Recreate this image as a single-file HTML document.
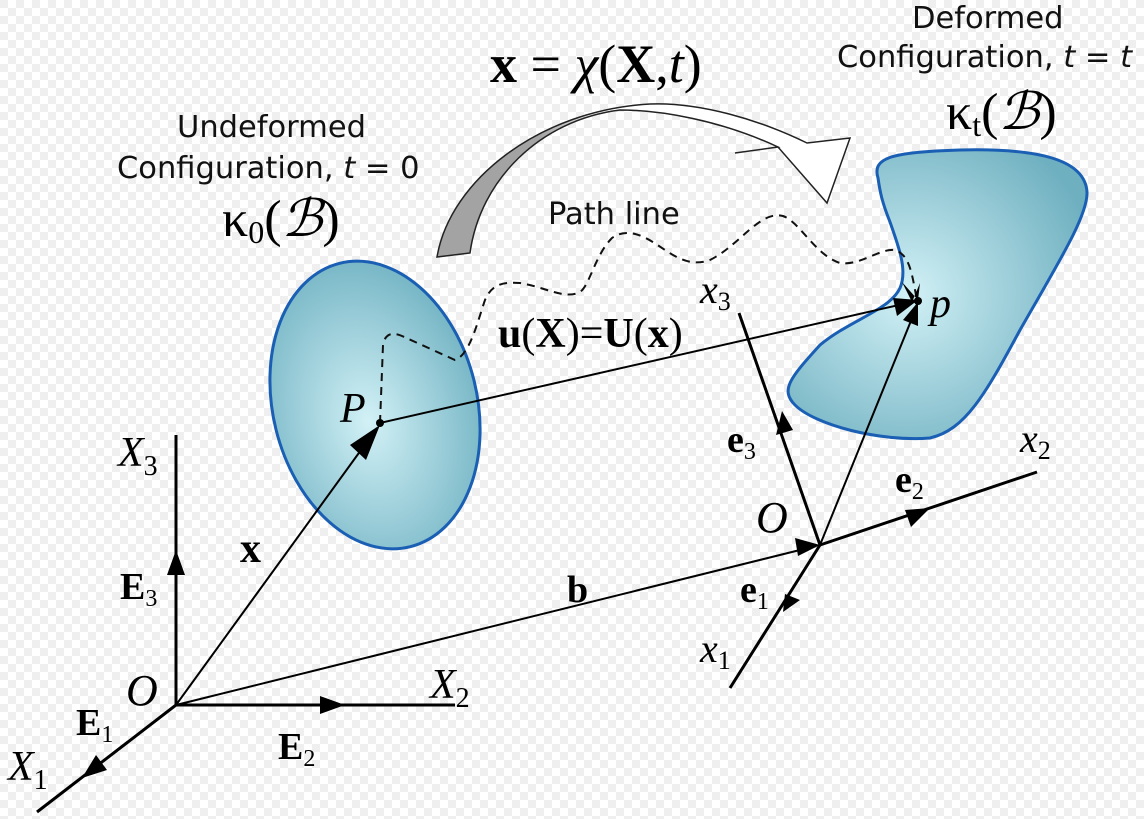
<!DOCTYPE html>
<html><head><meta charset="utf-8"><style>
html,body{margin:0;padding:0;width:1144px;height:819px;overflow:hidden}
svg{display:block}
.s{font-family:"DejaVu Sans","Liberation Sans",sans-serif;font-size:30.5px;fill:#111}
.m{font-family:"Liberation Serif","DejaVu Serif",serif;fill:#000}
</style></head><body>
<svg width="1144" height="819" viewBox="0 0 1144 819" xmlns="http://www.w3.org/2000/svg">
<defs>
<pattern id="ck" width="16" height="16" patternUnits="userSpaceOnUse">
<rect width="16" height="16" fill="#ffffff"/>
<rect width="8" height="8" fill="#efefef"/>
<rect x="8" y="8" width="8" height="8" fill="#efefef"/>
</pattern>
<radialGradient id="g1" cx="0.45" cy="0.55" r="0.6">
<stop offset="0" stop-color="#d2f1f6"/><stop offset="1" stop-color="#72b3c3"/>
</radialGradient>
<radialGradient id="g2" cx="0.4" cy="0.5" r="0.65">
<stop offset="0" stop-color="#d2f1f6"/><stop offset="1" stop-color="#6fb0c0"/>
</radialGradient>
<linearGradient id="ag" x1="0" y1="0" x2="1" y2="0">
<stop offset="0.25" stop-color="#a3a3a3"/><stop offset="0.42" stop-color="#ffffff"/>
</linearGradient>
</defs>
<rect width="1144" height="819" fill="url(#ck)"/>

<ellipse cx="375" cy="405" rx="102" ry="146" transform="rotate(-14 375 405)" fill="url(#g1)" stroke="#1a5fb4" stroke-width="3"/>
<path d="M878,178 C872,158 890,152 960,150 C1040,148 1085,160 1087,192 C1088,215 1060,260 1020,330 C985,395 965,430 930,438 C880,442 815,425 795,405 C780,390 790,378 820,345 C850,320 890,310 900,288 C908,270 898,245 890,222 C882,202 880,192 878,178 Z" fill="url(#g2)" stroke="#1a5fb4" stroke-width="3"/>

<path d="M437,257 C450,180 540,110 650,104 C700,102 760,120 807,143 L850,138 L827,203 L778,147 L735,153 L778,147 C720,120 660,110 620,110 C540,120 480,180 470,253 Z" fill="url(#ag)" stroke="#222" stroke-width="1.5"/>

<path d="M380,423 L383,345 C385,333 393,332 402,336 L455,360 C470,355 478,320 485,300 C492,283 505,282 520,283 C545,287 565,300 580,292 C590,285 595,255 612,238 C630,225 650,240 665,250 C680,260 693,266 710,260 C740,245 760,210 783,216 C800,222 815,255 840,263 C860,266 880,248 895,250 C910,255 912,275 916,295" fill="none" stroke="#111" stroke-width="2" stroke-dasharray="8,6"/>

<g stroke="#000" stroke-width="3" fill="none">
<line x1="176" y1="705" x2="176" y2="435"/>
<line x1="176" y1="705" x2="455" y2="705"/>
<line x1="176" y1="705" x2="37" y2="812"/>
</g>
<path d="M176,550 L167,575 L185,575z" fill="#000"/>
<path d="M345,705 L320,696 L320,714z" fill="#000"/>
<path d="M82,778 L107,770 L96,755z" fill="#000"/>
<g stroke="#000" stroke-width="2" fill="none">
<line x1="176" y1="705" x2="377" y2="428"/>
<line x1="176" y1="705" x2="816" y2="546"/>
<line x1="380" y1="423" x2="912" y2="302"/>
<line x1="820" y1="545" x2="917" y2="306"/>
</g>
<path d="M380,425 L350,445 L366,460z" fill="#000"/>
<path d="M820,545 L795,538 L798,556z" fill="#000"/>
<path d="M918,300 L893,298 L897,316z" fill="#000"/>
<path d="M918,302 L903,320 L918,326z" fill="#000"/>
<path d="M918,300 L902,282 L912,302 L920,283z" fill="#000"/>
<circle cx="380" cy="423" r="4" fill="#000"/>
<circle cx="918" cy="301" r="4" fill="#000"/>

<g stroke="#000" stroke-width="3" fill="none">
<line x1="820" y1="545" x2="1037" y2="472"/>
<line x1="820" y1="545" x2="730" y2="688"/>
<line x1="820" y1="545" x2="739" y2="313"/>
</g>
<path d="M930,508 L905,510 L911,527z" fill="#000"/>
<path d="M782,411 L776,435 L793,430z" fill="#000"/>
<path d="M783,612 L800,600 L785,594z" fill="#000"/>

<text class="s" x="177" y="137">Undeformed</text>
<text class="s" x="117" y="178">Configuration, <tspan font-style="italic">t</tspan> = 0</text>
<text class="s" x="912" y="28">Deformed</text>
<text class="s" x="837" y="67">Configuration, <tspan font-style="italic">t</tspan> = <tspan font-style="italic">t</tspan></text>
<text class="s" x="548" y="224" font-size="27">Path line</text>
<text class="m" x="222" y="236" font-size="52">κ<tspan font-size="32" dy="7">0</tspan><tspan dy="-7">(</tspan><tspan font-style="italic">ℬ</tspan>)</text>
<text class="m" x="946" y="129" font-size="52">κ<tspan font-size="32" dy="7">t</tspan><tspan dy="-7">(</tspan><tspan font-style="italic">ℬ</tspan>)</text>
<text class="m" x="490" y="82" font-size="54"><tspan font-weight="bold">x</tspan> = <tspan font-style="italic">χ</tspan>(<tspan font-weight="bold">X</tspan>,<tspan font-style="italic">t</tspan>)</text>
<text class="m" x="498" y="347" font-size="42" font-weight="bold">u<tspan font-weight="normal">(</tspan>X<tspan font-weight="normal">)=</tspan>U<tspan font-weight="normal">(</tspan>x<tspan font-weight="normal">)</tspan></text>
<text class="m" x="340" y="422" font-size="42" font-style="italic">P</text>
<text class="m" x="930" y="317" font-size="42" font-style="italic">p</text>
<text class="m" x="118" y="466" font-size="42" font-style="italic">X<tspan font-size="28" dy="9" font-style="normal">3</tspan></text>
<text class="m" x="430" y="698" font-size="42" font-style="italic">X<tspan font-size="28" dy="9" font-style="normal">2</tspan></text>
<text class="m" x="8" y="780" font-size="42" font-style="italic">X<tspan font-size="28" dy="9" font-style="normal">1</tspan></text>
<text class="m" x="126" y="705" font-size="44" font-style="italic">O</text>
<text class="m" x="756" y="532" font-size="44" font-style="italic">O</text>
<text class="m" x="120" y="599" font-size="38" font-weight="bold">E<tspan font-size="24" dy="7" font-weight="normal">3</tspan></text>
<text class="m" x="278" y="759" font-size="38" font-weight="bold">E<tspan font-size="24" dy="7" font-weight="normal">2</tspan></text>
<text class="m" x="76" y="735" font-size="38" font-weight="bold">E<tspan font-size="24" dy="7" font-weight="normal">1</tspan></text>
<text class="m" x="240" y="562" font-size="42" font-weight="bold">x</text>
<text class="m" x="567" y="602" font-size="38" font-weight="bold">b</text>
<text class="m" x="727" y="452" font-size="38" font-weight="bold">e<tspan font-size="24" dy="7" font-weight="normal">3</tspan></text>
<text class="m" x="895" y="492" font-size="38" font-weight="bold">e<tspan font-size="24" dy="7" font-weight="normal">2</tspan></text>
<text class="m" x="740" y="602" font-size="38" font-weight="bold">e<tspan font-size="24" dy="7" font-weight="normal">1</tspan></text>
<text class="m" x="700" y="303" font-size="40" font-style="italic">x<tspan font-size="26" dy="7" font-style="normal">3</tspan></text>
<text class="m" x="1020" y="452" font-size="40" font-style="italic">x<tspan font-size="26" dy="7" font-style="normal">2</tspan></text>
<text class="m" x="700" y="662" font-size="40" font-style="italic">x<tspan font-size="26" dy="7" font-style="normal">1</tspan></text>
</svg>
</body></html>
